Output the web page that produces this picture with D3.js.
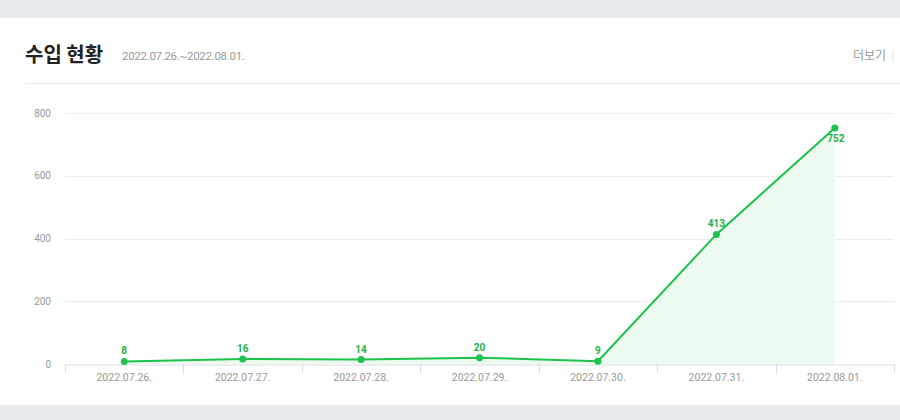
<!DOCTYPE html>
<html><head><meta charset="utf-8">
<script src="https://cdn.jsdelivr.net/npm/d3@7"></script>
<style>
html,body{margin:0;padding:0;background:#e8ebee;}
svg{display:block;font-family:Roboto,"Noto Sans CJK KR",sans-serif;}
</style></head>
<body>
<svg id="c" width="900" height="420"></svg>
<script>
const categories = ["2022.07.26.","2022.07.27.","2022.07.28.","2022.07.29.","2022.07.30.","2022.07.31.","2022.08.01."];
const values = [8,16,14,20,9,413,752];
const yTicks = [0,200,400,600,800];
const title = "수입 현황";
const period = "2022.07.26.~2022.08.01.";
const moreLabel = "더보기";

const svg = d3.select("#c");
const W = 900, H = 420;
svg.append("rect").attr("x",0).attr("y",0).attr("width",W).attr("height",H).attr("fill","#e8ebee");
svg.append("rect").attr("x",0).attr("y",18).attr("width",W).attr("height",387).attr("fill","#fff");

svg.append("text").attr("x",25).attr("y",62).attr("font-size",20).attr("font-weight",700)
  .attr("fill","#222").attr("font-family","'Noto Sans CJK KR',sans-serif").text(title);
svg.append("text").attr("x",122).attr("y",60).attr("font-size",11.5).attr("fill","#999")
  .attr("letter-spacing","-0.3").text(period);
svg.append("text").attr("x",886).attr("y",60).attr("text-anchor","end").attr("font-size",12)
  .attr("fill","#999").attr("font-family","'Noto Sans CJK KR',sans-serif").text(moreLabel);
svg.append("line").attr("x1",893).attr("x2",893).attr("y1",50).attr("y2",62).attr("stroke","#ddd");
svg.append("line").attr("x1",25).attr("x2",W).attr("y1",83.5).attr("y2",83.5).attr("stroke","#eee").attr("stroke-width",1.5);

const x0 = 65, x1 = 894, yTop = 113, yBot = 364;
const x = d3.scaleBand().domain(categories).range([x0,x1]);
const y = d3.scaleLinear().domain([0,800]).range([yBot,yTop]);
const cx = d => x(d) + x.bandwidth()/2;

const g = svg.append("g");
// grid
g.selectAll(".grid").data(yTicks.filter(t=>t>0)).join("line")
  .attr("x1",x0).attr("x2",x1).attr("y1",d=>Math.round(y(d))+0.5).attr("y2",d=>Math.round(y(d))+0.5)
  .attr("stroke","#ececec");
// y labels
g.selectAll(".yl").data(yTicks).join("text")
  .attr("x",51).attr("y",d=>y(d)+3.5).attr("text-anchor","end")
  .attr("font-size",10).attr("fill","#999").text(d=>d);

// x axis
const xAxis = d3.axisBottom(x).tickSize(0).tickPadding(9);
const ax = svg.append("g").attr("transform",`translate(0,${yBot+0.5})`).call(xAxis);
ax.select(".domain").attr("stroke","#d8dce0");
ax.selectAll("text").attr("font-size",10.5).attr("fill","#999").attr("font-family","Roboto,sans-serif");
const tickPos = categories.map(c=>x(c)).concat([x1]);
svg.append("g").selectAll("line").data(tickPos).join("line")
  .attr("x1",d=>Math.round(d)+0.5).attr("x2",d=>Math.round(d)+0.5)
  .attr("y1",yBot).attr("y2",yBot+9).attr("stroke","#d8dce0");

const data = categories.map((c,i)=>({c, v: values[i]}));
const green = "#1dc24d";
const area = d3.area().x(d=>cx(d.c)).y0(yBot).y1(d=>y(d.v));
svg.append("path").datum(data).attr("d",area).attr("fill","#e9f9ed").attr("opacity",0.85);
const line = d3.line().x(d=>cx(d.c)).y(d=>y(d.v));
svg.append("path").datum(data).attr("d",line).attr("fill","none").attr("stroke",green).attr("stroke-width",2);
svg.selectAll(".pt").data(data).join("circle")
  .attr("cx",d=>cx(d.c)).attr("cy",d=>y(d.v)).attr("r",3.5).attr("fill",green);
svg.selectAll(".lbl").data(data).join("text")
  .attr("x",(d,i)=> i===data.length-1 ? cx(d.c)+1 : cx(d.c))
  .attr("y",(d,i)=> i===data.length-1 ? y(d.v)+14 : y(d.v)-7)
  .attr("text-anchor","middle").attr("font-size",10).attr("font-weight",700)
  .attr("fill","#22b04b").text(d=>d.v);
</script>
</body></html>
